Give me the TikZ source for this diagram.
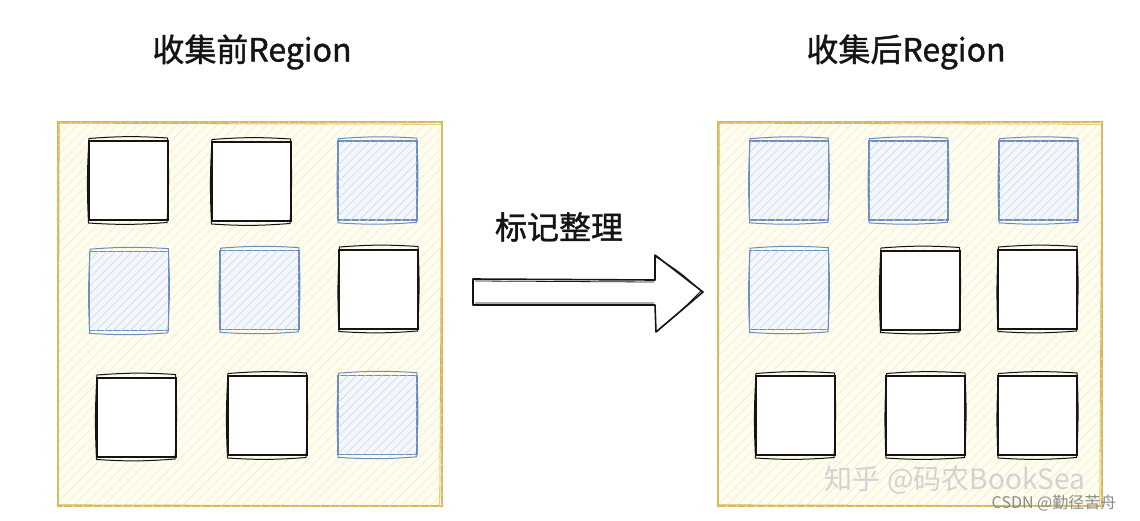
\documentclass[tikz,border=0pt]{standalone}
\usepackage{fontspec}
\newfontfamily\cjk[FakeBold=1.2]{Noto Sans CJK SC}
\newfontfamily\cjkr{Noto Sans CJK SC}
\usetikzlibrary{patterns.meta}
\definecolor{regionc}{HTML}{D8B95C}
\definecolor{regionfill}{HTML}{FFFDF0}
\definecolor{regionhatch}{HTML}{F4EDCB}
\definecolor{bluec}{HTML}{6C8EBF}
\definecolor{bluefill}{HTML}{F4F7FC}
\definecolor{bluehatch}{HTML}{C8D7EE}
\definecolor{blackc}{HTML}{141414}
\definecolor{wmc}{HTML}{D2D2D2}
\definecolor{csdnc}{HTML}{8A8A8A}
\tikzset{
  region/.style={draw=regionc, line width=1.6pt, fill=regionfill,
    postaction={pattern={Lines[angle=45,distance=7pt,line width=0.7pt]}, pattern color=regionhatch},
    minimum width=384pt, minimum height=384pt, inner sep=0pt},
  blk/.style={draw=blackc, line width=2pt, fill=white, minimum width=79pt, minimum height=79pt, inner sep=0pt},
  blu/.style={draw=bluec, line width=1.7pt, fill=bluefill,
    postaction={pattern={Lines[angle=45,distance=6pt,line width=0.6pt]}, pattern color=bluehatch},
    minimum width=79pt, minimum height=79pt, inner sep=0pt},
  sketchline/.style={line width=1pt},
  title/.style={font=\cjk\fontsize{32}{32}\selectfont, text=blackc},
  label/.style={font=\cjk\fontsize{32}{32}\selectfont, text=blackc},
  bigarrow/.style={draw=blackc, line width=1.6pt, fill=white, line join=round},
}
\newcommand\skq[2]{%
  \draw[sketchline,#2] ([shift={(1.5,-1.5)}]#1.north west) to[bend left=4] ([shift={(-1,-2)}]#1.north east)
    to[bend left=3] ([shift={(-1.5,1.5)}]#1.south east) to[bend left=4] ([shift={(1,2)}]#1.south west)
    to[bend left=3] cycle;}
\begin{document}
\begin{tikzpicture}[x=1pt,y=-1pt]
\useasboundingbox (0,0) rectangle (1140,520);
\fill[white] (0,0) rectangle (1140,520);

% titles
\node[title] (t1) at (252,52) {收集前Region};
\node[title] (t2) at (906,52) {收集后Region};

% regions
\node[region] (r1) at (250,314) {};
\node[region] (r2) at (910,314) {};
\draw[regionc, line width=0.8pt] ([shift={(2,2)}]r1.north west) -- ([shift={(-1,3)}]r1.north east) -- ([shift={(-3,-1)}]r1.south east) -- ([shift={(1,-2)}]r1.south west) -- cycle;
\draw[regionc, line width=0.8pt] ([shift={(2,2)}]r2.north west) -- ([shift={(-1,3)}]r2.north east) -- ([shift={(-3,-1)}]r2.south east) -- ([shift={(1,-2)}]r2.south west) -- cycle;

% left squares
\node[blk] (a1) at (128,180.5) {};
\node[blk] (a2) at (251,181.5) {};
\node[blu] (a3) at (377.5,180.5) {};
\node[blu] (a4) at (129,291) {};
\node[blu] (a5) at (259.5,290) {};
\node[blk] (a6) at (378.5,289) {};
\node[blk] (a7) at (136,417) {};
\node[blk] (a8) at (267,415.5) {};
\node[blu] (a9) at (377.5,415) {};
\skq{a1}{blackc}\skq{a2}{blackc}\skq{a3}{bluec}
\skq{a4}{bluec}\skq{a5}{bluec}\skq{a6}{blackc}
\skq{a7}{blackc}\skq{a8}{blackc}\skq{a9}{bluec}

% right squares
\node[blu] (b1) at (789,180.5) {};
\node[blu] (b2) at (908.5,180.5) {};
\node[blu] (b3) at (1038.5,180.5) {};
\node[blu] (b4) at (789,290) {};
\node[blk] (b5) at (920,290) {};
\node[blk] (b6) at (1037.5,289) {};
\node[blk] (b7) at (795,415.5) {};
\node[blk] (b8) at (925.5,415.5) {};
\node[blk] (b9) at (1037.5,415.5) {};
\skq{b1}{bluec}\skq{b2}{bluec}\skq{b3}{bluec}
\skq{b4}{bluec}\skq{b5}{blackc}\skq{b6}{blackc}
\skq{b7}{blackc}\skq{b8}{blackc}\skq{b9}{blackc}

% arrow
\node[label] (lab) at (559,227) {标记整理};
\draw[bigarrow] (473,279) -- (655,280) -- (655,255) -- (703,292) -- (656,332) -- (655,305) -- (473,305) -- cycle;
\draw[blackc, line width=0.8pt] (475,281) -- (654,282) (656,257) .. controls (680,272) .. (701,291) .. controls (682,310) .. (658,330) (654,303) -- (475,303);

% watermarks
\node[font=\cjkr\fontsize{28}{28}\selectfont, text=wmc, inner sep=0pt] (wm) at (955,480) {知乎 @码农BookSea};
\node[font=\cjkr\fontsize{16}{16}\selectfont, text=csdnc, inner sep=0pt] (csdn) at (1054,503) {CSDN @勤径苦舟};
\end{tikzpicture}
\end{document}
